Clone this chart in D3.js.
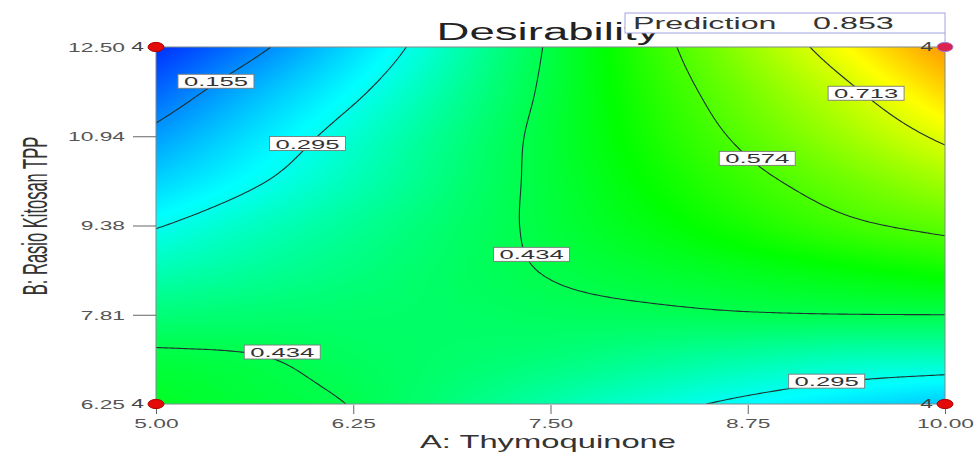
<!DOCTYPE html>
<html><head><meta charset="utf-8">
<script src="https://cdn.jsdelivr.net/npm/d3@7"></script>
<style>
body{margin:0;background:#fff;}
svg{display:block;font-family:"Liberation Sans",Arial,sans-serif;}
</style>
</head><body>
<svg id="chart" width="976" height="455"></svg>
<script>
// ---------- data ----------
const aValues = [5, 5.625, 6.25, 6.875, 7.5, 8.125, 8.75, 9.375, 10];
const bValues = [6.25, 7.03125, 7.8125, 8.59375, 9.375, 10.15625, 10.9375, 11.71875, 12.5];
// desirability, one row per B value (bottom to top)
const dB0625 = [0.470, 0.450, 0.432, 0.394, 0.355, 0.316, 0.281, 0.251, 0.220];
const dB0703 = [0.445, 0.437, 0.420, 0.408, 0.395, 0.375, 0.355, 0.338, 0.333];
const dB0781 = [0.397, 0.404, 0.409, 0.413, 0.420, 0.424, 0.430, 0.433, 0.434];
const dB0859 = [0.344, 0.368, 0.391, 0.415, 0.437, 0.457, 0.476, 0.495, 0.514];
const dB0938 = [0.291, 0.333, 0.371, 0.408, 0.446, 0.485, 0.523, 0.562, 0.591];
const dB1016 = [0.232, 0.288, 0.342, 0.396, 0.450, 0.504, 0.557, 0.608, 0.659];
const dB1094 = [0.173, 0.249, 0.320, 0.385, 0.452, 0.520, 0.588, 0.656, 0.726];
const dB1172 = [0.112, 0.201, 0.283, 0.365, 0.447, 0.532, 0.616, 0.700, 0.790];
const dB1250 = [0.050, 0.139, 0.240, 0.342, 0.442, 0.545, 0.648, 0.751, 0.853];
const desirabilityRows = [dB0625, dB0703, dB0781, dB0859, dB0938, dB1016, dB1094, dB1172, dB1250];

const contourLevels = [0.155, 0.295, 0.434, 0.574, 0.713];
const contourLabelText = ["0.155", "0.295", "0.434", "0.434", "0.574", "0.713", "0.295"];
const contourLabelA = [5.38, 5.96, 7.38, 5.80, 8.81, 9.50, 9.25];
const contourLabelB = [11.90, 10.81, 8.87, 7.16, 10.55, 11.69, 6.65];

const xTickValues = [5, 6.25, 7.5, 8.75, 10];
const xTickLabels = ["5.00", "6.25", "7.50", "8.75", "10.00"];
const yTickValues = [6.25, 7.8125, 9.375, 10.9375, 12.5];
const yTickLabels = ["6.25", "7.81", "9.38", "10.94", "12.50"];

const designA = [5, 5, 10, 10];
const designB = [6.25, 12.5, 6.25, 12.5];
const designCount = ["4", "4", "4", "4"];

const titleText = "Desirability";
const xTitle = "A: Thymoquinone";
const yTitle = "B: Rasio Kitosan TPP";
const predictionLabel = "Prediction";
const predictionValue = "0.853";

// ---------- setup ----------
const svg = d3.select("#chart");
const x = d3.scaleLinear([5, 10], [156, 945]);
const y = d3.scaleLinear([6.25, 12.5], [404, 47]);
const SX = 1.9; // horizontal stretch of text in the original picture
const color = d3.scaleLinear()
  .domain([0, 0.28, 0.5, 0.75, 1])
  .range(["#0000ff", "#00ffff", "#00ff00", "#ffff00", "#ff0000"])
  .clamp(true);

const NI = aValues.length, NJ = bValues.length;
const gi = d3.scaleLinear(d3.extent(aValues), [0, NI - 1]);
const gj = d3.scaleLinear(d3.extent(bValues), [0, NJ - 1]);
function gv(i, j) {
  if (i < 0) return 2 * gv(0, j) - gv(1, j);
  if (i > NI - 1) return 2 * gv(NI - 1, j) - gv(NI - 2, j);
  if (j < 0) return 2 * gv(i, 0) - gv(i, 1);
  if (j > NJ - 1) return 2 * gv(i, NJ - 1) - gv(i, NJ - 2);
  return desirabilityRows[j][i];
}
function cr(p0, p1, p2, p3, t) {
  return p1 + 0.5 * t * (p2 - p0 + t * (2 * p0 - 5 * p1 + 4 * p2 - p3 + t * (3 * (p1 - p2) + p3 - p0)));
}
function surface(A, B) {
  const fx = gi(A), fy = gj(B);
  const i = Math.max(0, Math.min(Math.floor(fx), NI - 2));
  const j = Math.max(0, Math.min(Math.floor(fy), NJ - 2));
  const tx = fx - i, ty = fy - j;
  const r = [];
  for (let m = -1; m <= 2; m++) r.push(cr(gv(i - 1, j + m), gv(i, j + m), gv(i + 1, j + m), gv(i + 2, j + m), tx));
  return cr(r[0], r[1], r[2], r[3], ty);
}

// ---------- colour surface ----------
const x0 = x(5), x1 = x(10), y0 = y(12.5), y1 = y(6.25);
const pw = Math.round(x1 - x0), ph = Math.round(y1 - y0);
const canvas = document.createElement("canvas");
canvas.width = pw; canvas.height = ph;
const ctx = canvas.getContext("2d");
const img = ctx.createImageData(pw, ph);
const lut = d3.range(1001).map(k => d3.rgb(color(k / 1000)));
for (let py = 0; py < ph; py++) {
  const B = y.invert(y0 + py + 0.5);
  for (let px = 0; px < pw; px++) {
    const A = x.invert(x0 + px + 0.5);
    const v = surface(A, B);
    const c = lut[Math.max(0, Math.min(1000, Math.round(v * 1000)))];
    const o = (py * pw + px) * 4;
    img.data[o] = c.r; img.data[o + 1] = c.g; img.data[o + 2] = c.b; img.data[o + 3] = 255;
  }
}
ctx.putImageData(img, 0, 0);
svg.append("image").attr("x", x0).attr("y", y0).attr("width", pw).attr("height", ph)
  .attr("preserveAspectRatio", "none").attr("href", canvas.toDataURL());

// ---------- contour lines ----------
svg.append("clipPath").attr("id", "plotclip").append("rect")
  .attr("x", x0).attr("y", y0).attr("width", x1 - x0).attr("height", y1 - y0);
const NX = 240, NY = 120;
const core = [];
for (let r = 0; r < NY; r++) {
  const B = 12.5 - r / (NY - 1) * 6.25;
  const row = [];
  for (let c = 0; c < NX; c++) row.push(surface(5 + c / (NX - 1) * 5, B));
  core.push(row);
}
const vals = new Float64Array((NX + 2) * (NY + 2));
for (let r = 0; r < NY + 2; r++) {
  const rr = Math.max(0, Math.min(NY - 1, r - 1));
  for (let c = 0; c < NX + 2; c++) {
    const cc = Math.max(0, Math.min(NX - 1, c - 1));
    vals[r * (NX + 2) + c] = core[rr][cc];
  }
}
const contours = d3.contours().size([NX + 2, NY + 2]).thresholds(contourLevels)(vals);
function toPx(p) {
  const A = 5 + (p[0] - 1.5) / (NX - 1) * 5;
  const B = 12.5 - (p[1] - 1.5) / (NY - 1) * 6.25;
  return [x(A), y(B)];
}
const path = d3.geoPath();
const gc = svg.append("g").attr("clip-path", "url(#plotclip)");
contours.forEach(ct => {
  const geom = {
    type: "MultiPolygon",
    coordinates: ct.coordinates.map(poly => poly.map(ring => ring.map(toPx)))
  };
  gc.append("path").attr("d", path(geom)).attr("fill", "none")
    .attr("stroke", "#1e3232").attr("stroke-width", 1.1);
});

// ---------- contour labels ----------
contourLabelText.forEach((t, k) => {
  const g = svg.append("g").attr("transform", `translate(${x(contourLabelA[k])},${y(contourLabelB[k])})`);
  g.append("rect").attr("x", -38).attr("y", -7).attr("width", 76).attr("height", 14)
    .attr("fill", "#fff").attr("stroke", "#7a7a7a").attr("stroke-width", 0.9);
  g.append("text").attr("text-anchor", "middle").attr("transform", `translate(0,5) scale(${SX},1)`)
    .attr("font-size", 13.5).attr("fill", "#333").text(t);
});

// ---------- plot border ----------
svg.append("rect").attr("x", x0).attr("y", y0).attr("width", x1 - x0).attr("height", y1 - y0)
  .attr("fill", "none").attr("stroke", "#7f8a8a").attr("stroke-width", 1);

// ---------- axes ----------
const gyAxis = svg.append("g").attr("transform", `translate(${x0},0)`)
  .call(d3.axisLeft(y).tickValues(yTickValues).tickFormat((d, i) => yTickLabels[i]).tickSize(23).tickSizeOuter(0));
gyAxis.attr("font-family", null).attr("font-size", null);
gyAxis.select(".domain").remove();
gyAxis.selectAll(".tick line").attr("stroke", "#666")
  .attr("opacity", (d, i) => (i === 0 || i === yTickValues.length - 1) ? 0 : 1);
gyAxis.selectAll(".tick text").attr("x", null).attr("dy", null).attr("text-anchor", "end")
  .attr("transform", `translate(-31,4.3) scale(${SX},1)`).attr("font-size", 12).attr("fill", "#555");

const gxAxis = svg.append("g").attr("transform", `translate(0,${y1 + 1})`)
  .call(d3.axisBottom(x).tickValues(xTickValues).tickFormat((d, i) => xTickLabels[i]).tickSize(9).tickSizeOuter(0));
gxAxis.attr("font-family", null).attr("font-size", null);
gxAxis.select(".domain").remove();
gxAxis.selectAll(".tick line").attr("stroke", "#666");
gxAxis.selectAll(".tick text").attr("y", null).attr("dy", null).attr("text-anchor", "middle")
  .attr("transform", `translate(0,22.5) scale(${SX},1)`).attr("font-size", 12).attr("fill", "#555");

// axis titles
svg.append("text").attr("text-anchor", "middle")
  .attr("transform", `translate(548,448) scale(1.82,1)`).attr("font-size", 18).attr("fill", "#333").text(xTitle);
svg.append("text").attr("text-anchor", "middle")
  .attr("transform", `translate(47,216) scale(2.1,1) rotate(-90)`).attr("font-size", 16.5).attr("fill", "#333").text(yTitle);

// title
svg.append("text").attr("text-anchor", "middle")
  .attr("transform", `translate(548,40) scale(${SX},1)`).attr("font-size", 24).attr("fill", "#222").text(titleText);

// prediction box
svg.append("rect").attr("x", 625).attr("y", 13).attr("width", 320).attr("height", 20)
  .attr("fill", "#fff").attr("stroke", "#a3a3e0").attr("stroke-width", 1);
svg.append("line").attr("x1", 945).attr("x2", 945).attr("y1", 33).attr("y2", y0)
  .attr("stroke", "#a3a3e0").attr("stroke-width", 1);
svg.append("text").attr("transform", `translate(633,29) scale(${SX},1)`).attr("font-size", 17).attr("fill", "#333").text(predictionLabel);
svg.append("text").attr("transform", `translate(813,29) scale(${SX},1)`).attr("font-size", 17).attr("fill", "#333").text(predictionValue);

// design points
designA.forEach((a, k) => {
  const cx = x(a), cy = y(designB[k]);
  const pred = (a === 10 && designB[k] === 12.5);
  svg.append("text").attr("text-anchor", "end")
    .attr("transform", `translate(${cx - 12},${cy + 4.3}) scale(${SX},1)`)
    .attr("font-size", 12).attr("fill", "#444").text(designCount[k]);
  svg.append("ellipse").attr("cx", cx).attr("cy", cy).attr("rx", 8).attr("ry", 4.6)
    .attr("fill", pred ? "#d8244e" : "#e30a0a").attr("stroke", pred ? "#a77ad8" : "#b00000").attr("stroke-width", 1);
});
</script>
</body></html>
